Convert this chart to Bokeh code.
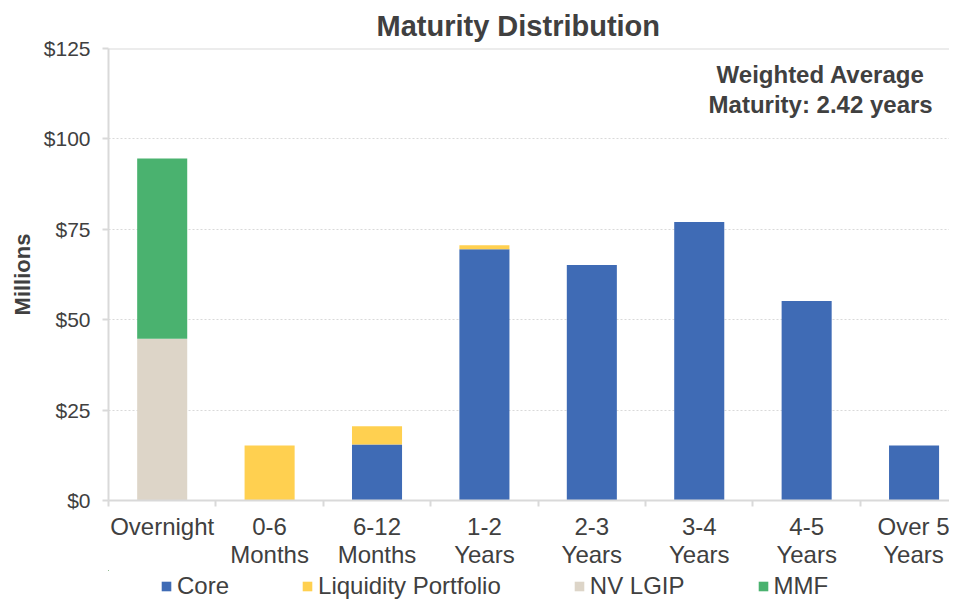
from bokeh.plotting import figure
from bokeh.layouts import column
from bokeh.models import (Range1d, FixedTicker, NumeralTickFormatter, Legend,
                          LegendItem, Label, Span, ColumnDataSource)
from bokeh.embed import file_html
from bokeh.resources import INLINE

# ---- data ----
categories = ["Overnight", "0-6 Months", "6-12 Months", "1-2 Years",
              "2-3 Years", "3-4 Years", "4-5 Years", "Over 5 Years"]
tick_labels = ["Overnight", "0-6\nMonths", "6-12\nMonths", "1-2\nYears",
               "2-3\nYears", "3-4\nYears", "4-5\nYears", "Over 5\nYears"]
series = ["Core", "Liquidity Portfolio", "NV LGIP", "MMF"]
core = [0, 0, 15.5, 69.5, 65.1, 77.0, 55.2, 15.2]
liquidity = [0, 15.2, 5.0, 1.1, 0, 0, 0, 0]
nv_lgip = [44.7, 0, 0, 0, 0, 0, 0, 0]
mmf = [49.9, 0, 0, 0, 0, 0, 0, 0]
colors = ["#3F6BB5", "#FFD050", "#DDD5C8", "#4AB26F"]
y_ticks = [0, 25, 50, 75, 100, 125]
title_text = "Maturity Distribution"
wam_text = "Weighted Average\nMaturity: 2.42 years"

FONT = "Liberation Sans"
TXT = "#404040"
GRID = "#D9D9D9"

n = len(categories)
centers = [i + 0.5 for i in range(n)]
bounds = list(range(n + 1))

source = ColumnDataSource(dict(x=centers, cat=categories, **{
    "Core": core, "Liquidity Portfolio": liquidity, "NV LGIP": nv_lgip, "MMF": mmf}))

# the original plot area runs slightly past the right edge of the picture
VISIBLE_X = 7.83

p = figure(width=949, height=570, output_backend="svg", toolbar_location=None,
           x_range=Range1d(0, VISIBLE_X), y_range=Range1d(0, y_ticks[-1]),
           min_border_left=108, min_border_right=0, min_border_top=48,
           min_border_bottom=69, outline_line_color=None,
           background_fill_color="white", border_fill_color="white")

p.title.text = title_text
p.title.align = "left"
p.title.offset = 268
p.title.vertical_align = "top"
p.title.text_font = FONT
p.title.text_font_size = "29px"
p.title.text_font_style = "bold"
p.title.text_color = TXT
p.title.standoff = 9

renderers = p.vbar_stack(series, x="x", width=0.466, color=colors, source=source,
                         line_color=None)

# axes
p.xaxis.ticker = FixedTicker(ticks=centers, minor_ticks=bounds)
p.xaxis.major_label_overrides = {c: t for c, t in zip(centers, tick_labels)}
p.xaxis.major_tick_line_color = None
p.xaxis.minor_tick_line_color = GRID
p.xaxis.minor_tick_line_width = 2
p.xaxis.minor_tick_out = 6
p.xaxis.minor_tick_in = 0
p.xaxis.axis_line_color = GRID
p.xaxis.axis_line_width = 2
p.xaxis.major_label_text_font = FONT
p.xaxis.major_label_text_font_size = "24px"
p.xaxis.major_label_text_color = TXT
p.xaxis.major_label_text_line_height = 1.05
p.xaxis.major_label_standoff = 6

p.yaxis.ticker = FixedTicker(ticks=y_ticks)
p.yaxis.formatter = NumeralTickFormatter(format="$0")
p.yaxis.minor_tick_line_color = None
p.yaxis.major_tick_line_color = GRID
p.yaxis.major_tick_line_width = 2
p.yaxis.major_tick_out = 6
p.yaxis.major_tick_in = 0
p.yaxis.axis_line_color = GRID
p.yaxis.axis_line_width = 2
p.yaxis.major_label_text_font = FONT
p.yaxis.major_label_text_font_size = "21px"
p.yaxis.major_label_text_color = TXT
p.yaxis.major_label_standoff = 12
p.yaxis.axis_label = "Millions"
p.yaxis.axis_label_text_font = FONT
p.yaxis.axis_label_text_font_size = "22px"
p.yaxis.axis_label_text_font_style = "bold"
p.yaxis.axis_label_text_color = TXT
p.yaxis.axis_label_standoff = 6

p.xgrid.grid_line_color = None
p.ygrid.grid_line_color = GRID
p.ygrid.grid_line_dash = "2 2"
p.ygrid.grid_line_width = 1

p.add_layout(Span(location=y_ticks[-1], dimension="width", line_color=GRID, line_width=2))

p.add_layout(Label(x=6.63, y=113.6, text=wam_text, text_align="center",
                   text_baseline="middle", text_font=FONT, text_font_size="24px",
                   text_font_style="bold", text_color=TXT, text_line_height=1.13))

# ---- legend strip below the chart (same data, drawn far out of view) ----
lg = figure(width=949, height=30, output_backend="svg", toolbar_location=None,
            x_range=Range1d(100, 100 + VISIBLE_X), y_range=Range1d(-2, -1),
            min_border_left=0, min_border_right=0, min_border_top=0,
            min_border_bottom=0, outline_line_color=None,
            x_axis_type=None, y_axis_type=None)
lg.xgrid.grid_line_color = None
lg.ygrid.grid_line_color = None
proxies = lg.vbar_stack(series, x="x", width=0.466, color=colors, source=source,
                        line_color=None)

legend = Legend(items=[LegendItem(label=s, renderers=[r]) for s, r in zip(series, proxies)],
                orientation="horizontal", location=(52, 0), spacing=72,
                glyph_width=12, glyph_height=12, label_standoff=5,
                label_text_font=FONT, label_text_font_size="24px", label_text_color=TXT,
                padding=2, margin=0, border_line_color=None,
                background_fill_alpha=0)
lg.add_layout(legend)

layout = column(p, lg, spacing=0)
open("out.html", "w").write(file_html(layout, INLINE))
